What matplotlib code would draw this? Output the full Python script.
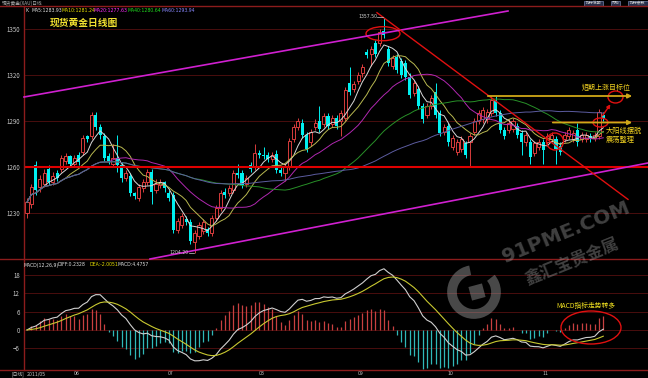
import numpy as np
import pandas as pd
import matplotlib
matplotlib.use("Agg")
from matplotlib import pyplot as plt
from matplotlib import transforms
from matplotlib.patches import Ellipse, Arc, Rectangle

plt.rcParams['font.family'] = ['Noto Sans CJK SC', 'DejaVu Sans']

# spot gold daily candles, 2011/05 .. 2011/11
opens = [1230, 1236, 1261, 1247, 1249, 1259, 1250, 1256, 1259, 1264,
         1267, 1262, 1268, 1270, 1280, 1280, 1294, 1286, 1280, 1267,
         1262, 1266, 1261, 1253, 1254, 1243, 1240, 1246, 1250, 1257,
         1245, 1248, 1250, 1243, 1242, 1219, 1222, 1226, 1224, 1211,
         1215, 1218, 1219.5, 1217, 1227, 1233, 1244, 1243, 1245, 1256,
         1256, 1249, 1261, 1260, 1269, 1268, 1268, 1265, 1268.5, 1258,
         1256, 1260, 1278, 1286, 1289, 1281, 1276, 1286, 1290, 1288,
         1293, 1288, 1292, 1290, 1292, 1315, 1311, 1316, 1321, 1335,
         1334, 1341, 1341, 1348.7, 1337, 1326, 1332, 1329, 1328, 1319,
         1308, 1311, 1300, 1294, 1300, 1309, 1295, 1283, 1287, 1273,
         1270, 1272, 1275.6, 1276, 1283, 1290, 1291, 1291, 1295, 1304,
         1295, 1284, 1284, 1285, 1287, 1282, 1276, 1276, 1269, 1273,
         1276, 1276, 1278, 1278, 1274, 1278, 1280, 1278, 1284, 1278,
         1278, 1280, 1279, 1280, 1294]
closes = [1237, 1247, 1245, 1252, 1256, 1250, 1254, 1253, 1266, 1267,
          1262, 1266, 1263, 1279, 1278, 1294, 1286, 1281, 1266, 1264,
          1266, 1261, 1253, 1256, 1243, 1241, 1247, 1250, 1257, 1244,
          1249, 1250, 1246, 1240, 1219, 1225, 1228, 1224, 1212, 1217,
          1222, 1224, 1217, 1227, 1233, 1243, 1242, 1246, 1256, 1255,
          1248, 1253, 1259, 1269, 1268, 1267, 1265, 1268, 1258, 1256,
          1260, 1277, 1286, 1290, 1281, 1272, 1283, 1289, 1285, 1293,
          1287, 1292, 1287, 1295, 1310, 1309, 1314, 1320, 1325, 1333,
          1337, 1334, 1348, 1346, 1328, 1331, 1323, 1320, 1319, 1307,
          1315, 1300, 1291, 1300, 1305, 1294, 1282, 1286, 1276, 1279,
          1276, 1278, 1268, 1280, 1290, 1295, 1297, 1296, 1304, 1295,
          1284, 1280, 1289, 1290, 1281, 1276, 1281, 1266.5, 1275.6, 1276,
          1271, 1280, 1281, 1272, 1270, 1281, 1284, 1282, 1276, 1281,
          1281, 1278, 1281, 1296, 1292]
highs = [1240, 1249, 1264, 1255, 1259, 1261, 1257, 1258, 1268, 1269,
         1268, 1268, 1270, 1281, 1281, 1296, 1296, 1288, 1282, 1269,
         1275, 1281, 1263, 1258, 1256, 1244, 1249, 1252, 1259, 1259,
         1252, 1252, 1251, 1245, 1244, 1227, 1230, 1228, 1226, 1219,
         1224, 1226, 1221, 1229, 1235, 1245, 1246, 1248, 1258, 1262,
         1258, 1255, 1263, 1275, 1271, 1273, 1270, 1270, 1271, 1260,
         1262, 1279, 1288, 1292, 1291, 1283, 1285, 1291, 1300, 1295,
         1295, 1294, 1294, 1297, 1312, 1325, 1316, 1322, 1327, 1337,
         1339, 1343, 1350, 1357.5, 1339, 1333, 1334, 1331, 1330, 1321,
         1317, 1313, 1302, 1302, 1307, 1315, 1297, 1288, 1289, 1281,
         1278, 1280, 1277, 1282, 1292, 1297, 1299, 1298, 1306, 1306,
         1297, 1286, 1291, 1292, 1289, 1284, 1283, 1278, 1277, 1278,
         1278, 1282, 1283, 1280, 1276, 1283, 1286, 1284, 1289, 1283,
         1283, 1282, 1283, 1298, 1296]
lows = [1227, 1233, 1242, 1244, 1247, 1248, 1248, 1251, 1257, 1262,
        1260, 1260, 1261, 1268, 1276, 1278, 1284, 1278, 1264, 1262,
        1260, 1257, 1250, 1251, 1241, 1239, 1238, 1244, 1248, 1236,
        1243, 1246, 1244, 1238, 1217, 1217, 1220, 1222, 1210, 1204.2,
        1213, 1216, 1215, 1215, 1225, 1231, 1240, 1241, 1243, 1253,
        1246, 1247, 1257, 1258, 1266, 1265, 1263, 1263, 1256, 1254,
        1251, 1258, 1276, 1284, 1279, 1270, 1274, 1284, 1283, 1286,
        1285, 1286, 1285, 1280, 1290, 1307, 1309, 1314, 1319, 1331,
        1326, 1332, 1339, 1344, 1326, 1324, 1321, 1318, 1317, 1305,
        1306, 1298, 1289, 1292, 1298, 1292, 1280, 1281, 1274, 1271,
        1268, 1270, 1266, 1260, 1281, 1288, 1289, 1289, 1293, 1293,
        1282, 1278, 1282, 1283, 1279, 1268, 1274, 1262, 1267, 1271,
        1262, 1274, 1276, 1262, 1268, 1276, 1278, 1276, 1274, 1276,
        1276, 1276, 1277, 1278, 1290]

month_labels = ['2011/05', '06', '07', '08', '09', '10', '11']
month_pos = [0, 11, 33, 54, 77, 98, 120]   # first candle of each month

ma_periods = [5, 10, 20, 40, 60]
ma_colors = ['#d8d8d8', '#b8b850', '#b028b0', '#289028', '#5c5ca0']
ma_text = ['MA5:1283.93', 'MA10:1281.24', 'MA20:1277.63', 'MA40:1280.64', 'MA60:1293.94']
ma_text_colors = ['#e0e0e0', '#e8e000', '#ff30ff', '#20e020', '#8888ff']

price_ticks = [1230, 1260, 1290, 1320, 1350]
macd_ticks = [-6, 0, 6, 12, 18]

o = np.array(opens, float)
c = np.array(closes, float)
h = np.array(highs, float)
l = np.array(lows, float)
n = len(c)
idx = np.arange(n)
up = c >= o

W, H = 648, 378
fig = plt.figure(figsize=(W / 100, H / 100), dpi=100, facecolor='black')

def box(x0, y0, x1, y1):
    return [x0 / W, 1 - y1 / H, (x1 - x0) / W, (y1 - y0) / H]

grid_c = '#561010'
frame_c = '#8c1c1c'
red_c = '#d83c3c'
cyan_c = '#00f0f0'
small = 3.3

ax = fig.add_axes(box(24, 6, 648, 259), facecolor='black')
ax2 = fig.add_axes(box(24, 259, 648, 370), facecolor='black', sharex=ax)
for a in (ax, ax2):
    for s in a.spines.values():
        s.set_visible(False)
    a.tick_params(axis='x', bottom=False, labelbottom=False)
    a.tick_params(axis='y', length=0, labelsize=4.4, labelcolor='#c8c8c8', pad=3)

# candles
cols = [red_c if u else cyan_c for u in up]
ax.vlines(idx, l, h, colors=cols, lw=0.7, zorder=2)
bot = np.minimum(o, c)
ht = np.maximum(np.abs(c - o), 0.5)
ax.bar(idx[up], ht[up], bottom=bot[up], width=0.72, facecolor='black',
       edgecolor=red_c, lw=0.7, zorder=3)
ax.bar(idx[~up], ht[~up], bottom=bot[~up], width=0.72, color=cyan_c, lw=0, zorder=3)

cs = pd.Series(c)
for p, col in zip(ma_periods, ma_colors):
    ax.plot(idx, cs.rolling(p, min_periods=1).mean(), color=col, lw=0.7, zorder=4)

ax.set_xlim(-0.7, 144.4)
ax.set_ylim(1200, 1365)
ax.set_yticks(price_ticks)
for t in price_ticks:
    ax.axhline(t, color=grid_c, lw=0.6, zorder=0)
ax.axhline(1260, color='#e00000', lw=1.5, zorder=5)

# MACD
ema12 = cs.ewm(span=12, adjust=False).mean()
ema26 = cs.ewm(span=26, adjust=False).mean()
diff = ema12 - ema26
dea = diff.ewm(span=9, adjust=False).mean()
hist = 2 * (diff - dea)
ax2.vlines(idx, 0, hist, colors=['#c84040' if v >= 0 else '#30b8b8' for v in hist], lw=0.9)
ax2.plot(idx, diff, color='#d0d0d0', lw=0.8)
ax2.plot(idx, dea, color='#c8c830', lw=0.8)
ax2.set_ylim(-13.1, 23.2)
ax2.set_yticks(macd_ticks)
for t in macd_ticks:
    ax2.axhline(t, color=grid_c, lw=0.6, zorder=0)

tr = transforms.blended_transform_factory(ax2.transData, ax2.transAxes)
for pos, lab in zip(month_pos, month_labels):
    ax2.text(pos - 0.2, -0.036, lab, transform=tr, fontsize=small, color='#c8c8c8',
             ha='left', va='center', family='DejaVu Sans')

# overlay in pixel coordinates for frame, drawings and notes
ov = fig.add_axes([0, 0, 1, 1])
ov.set_xlim(0, W)
ov.set_ylim(H, 0)
ov.axis('off')

for xs, ys in [([0, W], [6, 6]), ([24, 24], [6, 370]), ([0, W], [259, 259]), ([0, W], [370, 370])]:
    ov.plot(xs, ys, color=frame_c, lw=1)

ov.text(2, 3, '现货黄金(XAU)日线', fontsize=3.4, color='#b0b0b0', va='center')
for (x0, x1), t in zip([(584, 603), (611, 620), (628, 648)], ['指标说明', '帮助', '指标参数']):
    ov.add_patch(Rectangle((x0, 0.5), x1 - x0, 5, fc='#28304c', ec='#7080a8', lw=0.5))
    ov.text((x0 + x1) / 2, 3, t, fontsize=2.8, color='#d0d0d0', ha='center', va='center')
ov.text(11, 374, '[日线]', fontsize=3.4, color='#c8c8c8', va='center')

# MA legend
ov.text(25, 10, 'K', fontsize=small, color='#e0e0e0', va='center', family='DejaVu Sans')
for x, t, col in zip([31, 61, 94, 128, 162], ma_text, ma_text_colors):
    ov.text(x, 10, t, fontsize=small, color=col, va='center', family='DejaVu Sans')
# MACD legend
for x, t, col in zip([24, 58, 89, 118],
                     ['MACD(12,26,9)', 'DIFF:0.2328', 'DEA:-2.0051', 'MACD:4.4757'],
                     ['#e0e0e0', '#e0e0e0', '#e8e000', '#e0e0e0']):
    ov.text(x, 265, t, fontsize=small, color=col, va='center', family='DejaVu Sans')

# hand-drawn lines
ov.plot([24, 508], [97, 11], color='#d020d0', lw=1.2)
ov.plot([150, 648], [259, 163], color='#d020d0', lw=1.2)
ov.plot([377, 628], [12.7, 199.4], color='#e01010', lw=1)

for (cx, cy), w, hh in [((383, 33.7), 34, 14), ((555, 141.5), 17, 17),
                        ((600.5, 122.5), 15, 9), ((615.5, 97), 15, 12),
                        ((591, 327.5), 60, 33)]:
    ov.add_patch(Ellipse((cx, cy), w, hh, fill=False, ec='#e01010', lw=1))
ov.annotate('', xy=(612, 102), xytext=(601, 118),
            arrowprops=dict(arrowstyle='-|>', color='#e01010', lw=1, mutation_scale=5))
for y, x0 in [(96, 485), (122.5, 550)]:
    ov.annotate('', xy=(635, y), xytext=(x0, y),
                arrowprops=dict(arrowstyle='-|>', color='#d0a818', lw=1.3, mutation_scale=6))

ov.text(377, 17, '1357.50', ha='right', va='center', fontsize=small, color='#d0d0d0', family='DejaVu Sans')
ov.plot([377, 383], [17, 17], color='#d0d0d0', lw=0.5)
ov.text(189, 252.5, '1204.20', ha='right', va='center', fontsize=small, color='#d0d0d0', family='DejaVu Sans')
ov.plot([189, 194], [252.5, 252.5], color='#d0d0d0', lw=0.5)

ov.text(50, 22.5, '现货黄金日线图', color='#f0e030', fontsize=7, fontweight='bold', va='center')
ov.text(582, 88, '短期上涨目标位', color='#f0d020', fontsize=5, va='center')
ov.text(606, 130.5, '大阳线摆脱', color='#f0d020', fontsize=5.2, va='center')
ov.text(606, 139.5, '震荡整理', color='#f0d020', fontsize=5.2, va='center')
ov.text(556, 306, 'MACD指标走势转多', color='#f0e020', fontsize=4.9, va='center')

# watermark
wm = '#a0a0a0'
ov.add_patch(Arc((474, 292), 44, 44, theta1=-40, theta2=260, color=wm, lw=7, alpha=0.45))
ov.add_patch(Rectangle((470, 285), 14, 14, angle=-15, rotation_point='center', fc=wm, alpha=0.45, lw=0))
ov.text(566, 232, '91PME.COM', rotation=22, fontsize=14.5, fontweight='bold', color=wm,
        alpha=0.4, ha='center', va='center', family='DejaVu Sans')
ov.text(572, 262, '鑫汇宝贵金属', rotation=22, fontsize=12, fontweight='bold', color=wm,
        alpha=0.4, ha='center', va='center')

fig.savefig('out.png', dpi=100, facecolor='black')
